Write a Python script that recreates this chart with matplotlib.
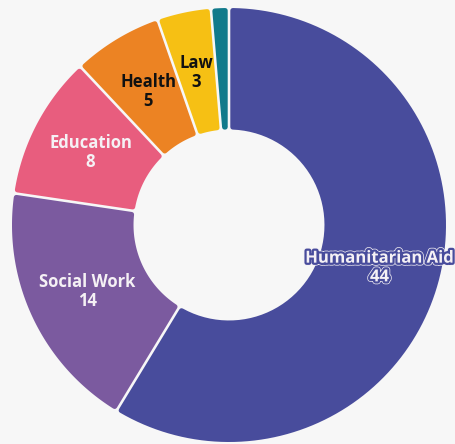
import numpy as np
import matplotlib.pyplot as plt
import matplotlib.patheffects as pe
from matplotlib.patches import Polygon

fields = ["Humanitarian Aid", "Social Work", "Education", "Health", "Law", "Other"]
counts = [44, 14, 8, 5, 3, 1]
colors = ["#484c9c", "#7b5a9f", "#e85d7e", "#ec8323", "#f6c014", "#117a8b"]
text_colors = ["#f5f1f5", "#f5f1f5", "#f5f1f5", "#111111", "#111111", None]
show_label = [True, True, True, True, True, False]

bg = "#f7f7f7"
W, H = 455, 444
R = 217.0
cx, cy = 229, 219  # centre in pixels, from the bottom left
ring = 0.56

fig = plt.figure(figsize=(W / 100, H / 100), dpi=100, facecolor=bg)
ax = fig.add_axes([0, 0, 1, 1])
ax.set_facecolor(bg)

labels = [f"{f}\n{c}" if s else "" for f, c, s in zip(fields, counts, show_label)]

wedges, texts = ax.pie(
    counts, colors=colors, startangle=90, counterclock=False,
    radius=1.0, labels=labels, labeldistance=0.72,
    wedgeprops=dict(width=ring),
    textprops=dict(fontsize=12, fontweight="bold", family="Open Sans",
                   ha="center", va="center", linespacing=1.05),
)

# redraw each wedge with a small gap and rounded corners
gap = 1.3 / R       # half the gap between slices
rc = 2.5 / R        # corner radius
for w, col in zip(wedges, colors):
    w.set_visible(False)
    t1, t2 = np.radians(w.theta1), np.radians(w.theta2)
    ro = w.r - rc
    ri = w.r - w.width + rc
    s = gap + rc
    a_o = np.arcsin(s / ro)
    a_i = np.arcsin(s / ri)
    if t2 - t1 < 2 * a_i:
        a_i = (t2 - t1) / 2 * 0.95
    outer = np.linspace(t1 + a_o, t2 - a_o, 120)
    inner = np.linspace(t2 - a_i, t1 + a_i, 60)
    pts = np.concatenate([
        np.c_[ro * np.cos(outer), ro * np.sin(outer)],
        np.c_[ri * np.cos(inner), ri * np.sin(inner)],
    ])
    ax.add_patch(Polygon(pts, closed=True, facecolor=col, edgecolor=col,
                         linewidth=2 * rc * R * 0.72, joinstyle="round"))

for t, tc, col in zip(texts, text_colors, colors):
    if tc is None:
        continue
    t.set_color(tc)
    t.set_zorder(5)
    if col == "#484c9c":
        t.set_path_effects([pe.Stroke(linewidth=4.2, foreground="#f5f1f5"),
                            pe.Stroke(linewidth=3.2, foreground=col),
                            pe.Normal()])

ax.set_xlim(-cx / R, (W - cx) / R)
ax.set_ylim(-cy / R, (H - cy) / R)
ax.set_aspect("auto")
ax.axis("off")

fig.savefig("out.png", dpi=100, facecolor=bg)
